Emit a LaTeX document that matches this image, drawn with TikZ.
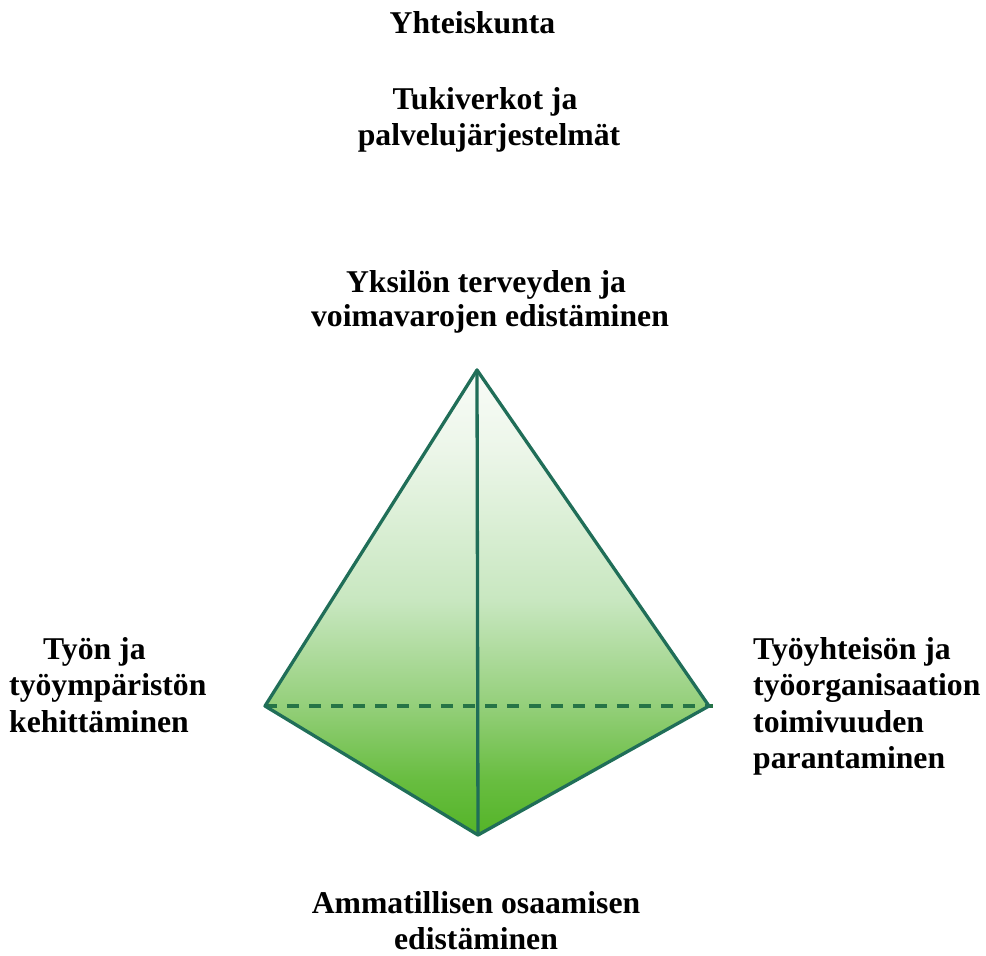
\documentclass[tikz,border=0pt]{standalone}
\usepackage{fontspec}
\setmainfont{Liberation Serif}
\definecolor{edgecol}{RGB}{32,110,88}
\definecolor{dashcol}{RGB}{38,116,70}
\definecolor{gA}{RGB}{84,180,40}
\definecolor{gB}{RGB}{104,189,64}
\definecolor{gC}{RGB}{148,207,122}
\definecolor{gD}{RGB}{200,231,192}
\definecolor{gE}{RGB}{236,246,233}
\definecolor{gF}{RGB}{249,252,248}
\pgfdeclareverticalshading{pyrshade}{100bp}{color(0bp)=(gA); color(25bp)=(gA); color(30.9bp)=(gB); color(38.9bp)=(gC); color(50.2bp)=(gD); color(66.5bp)=(gE); color(75bp)=(gF); color(100bp)=(gF)}
\newcommand{\stackC}[1]{\vtop{\halign{\hfil##\hfil\cr#1\crcr}}}
\newcommand{\stackL}[1]{\vtop{\halign{##\hfil\cr#1\crcr}}}
\tikzset{
  lbl/.style={inner sep=0pt, font=\fontsize{31.7}{36.5}\selectfont\bfseries},
  edgeline/.style={draw=edgecol, line width=3.3pt, line join=round, line cap=round},
  hidden/.style={draw=dashcol, line width=3.4pt, dash pattern=on 12pt off 10pt}
}
\begin{document}
\begin{tikzpicture}[x=1pt,y=-1pt]
\useasboundingbox (0,0) rectangle (986,956);
% vertices
\coordinate (T) at (477,370);
\coordinate (L) at (265,706);
\coordinate (R) at (709,706);
\coordinate (B) at (478,835);
\coordinate (Rx) at (713,706);
% body
\shade[shading=pyrshade] (T) -- (R) -- (B) -- (L) -- cycle;
\draw[hidden] (L) -- (Rx);
\draw[edgeline] (T) -- (R) -- (B) -- (L) -- cycle;
\draw[edgeline] (T) -- (B);
% labels
\node[lbl, anchor=base] (yht) at (472.5,33) {Yhteiskunta};
\node[lbl, anchor=base] (tuki) at (489,109) {\stackC{Tukiverkot ja\hspace{0.25em}\cr palvelujärjestelmät}};
\node[lbl, anchor=base] (yks) at (490,292) {\baselineskip=34pt\stackC{Yksilön terveyden ja\hspace{0.25em}\cr voimavarojen edistäminen}};
\node[lbl, anchor=base west] (tyon) at (9,659) {\stackL{\hspace{34pt}Työn ja\cr työympäristön\cr kehittäminen}};
\node[lbl, anchor=base west] (tyoy) at (753,659) {\stackL{Työyhteisön ja\cr työorganisaation\cr toimivuuden\cr parantaminen}};
\node[lbl, anchor=base] (amm) at (476,913) {\stackC{Ammatillisen osaamisen\cr edistäminen}};
\end{tikzpicture}
\end{document}
